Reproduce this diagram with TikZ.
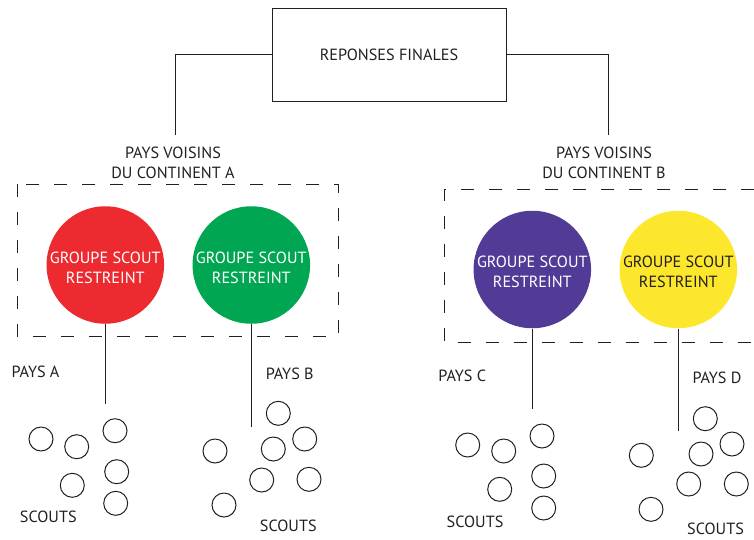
\documentclass[tikz,border=0pt]{standalone}
\usepackage{fontspec}
\setmainfont{PT Sans}
\definecolor{ink}{HTML}{231F20}
\definecolor{cred}{HTML}{EC2A2F}
\definecolor{cgreen}{HTML}{00A651}
\definecolor{cpurple}{HTML}{523B97}
\definecolor{cyellow}{HTML}{FDE72C}
\newcommand{\grptext}{\raisebox{-4pt}[\height][\depth]{\begin{tabular}{@{}c@{}}GROUPE SCOUT\\RESTREINT\end{tabular}}}
\begin{document}
\begin{tikzpicture}[x=1pt,y=-1pt,
  line width=1pt,
  every node/.style={text=ink},
  lbl/.style={inner sep=0pt,font=\fontsize{16.2}{20}\selectfont,align=center},
  grp/.style={circle,minimum size=114pt,inner sep=0pt,draw=none,
              font=\fontsize{16.2}{20}\selectfont},
  scout/.style={circle,draw=ink,line width=1pt,minimum size=24pt,inner sep=0pt},
  dbox/.style={draw=ink,dash pattern=on 13pt off 15pt},
  conn/.style={draw=ink,line width=1pt}]
\useasboundingbox (0,0) rectangle (754,539);

% top box
\node[draw=ink,minimum width=234pt,minimum height=93pt,inner sep=0pt,
      font=\fontsize{16.2}{20}\selectfont] (top) at (389,54.5) {REPONSES FINALES};

% continent labels
\node[lbl] (contA) at (173,163) {PAYS VOISINS\\DU CONTINENT A};
\node[lbl] (contB) at (604,163) {PAYS VOISINS\\DU CONTINENT B};
\coordinate (jA) at (175.7,135);
\coordinate (jB) at (608,135);
\draw[conn] (top.west) -| (jA);
\draw[conn] (top.east) -| (jB);

% dashed frames
\draw[dbox] (17.3,184) rectangle (338.3,336);
\draw[dbox] (754,189) -- (444.7,189) -- (444.7,342.7) -- (754,342.7);

% group circles
\node[grp,fill=cred,text=white] (gA) at (105.3,265) {\grptext};
\node[grp,fill=cgreen,text=white] (gB) at (251.3,265) {\grptext};
\node[grp,fill=cpurple,text=white] (gC) at (532.3,269.5) {\grptext};
\node[grp,fill=cyellow,text=ink] (gD) at (678.3,269.5) {\grptext};

% stems
\coordinate (eA) at (105.3,404);
\coordinate (eB) at (251.3,426.7);
\coordinate (eC) at (532.3,409.3);
\coordinate (eD) at (678.3,431);
\draw[conn] (gA.south) -- (eA);
\draw[conn] (gB.south) -- (eB);
\draw[conn] (gC.south) -- (eC);
\draw[conn] (gD.south) -- (eD);

% country labels
\node[lbl] (pA) at (35.5,372.3) {PAYS A};
\node[lbl] (pB) at (289.7,374) {PAYS B};
\node[lbl] (pC) at (462.3,375.7) {PAYS C};
\node[lbl] (pD) at (717,378.3) {PAYS D};
\node[lbl] (sA) at (48.3,516.7) {SCOUTS};
\node[lbl] (sB) at (288.3,525.7) {SCOUTS};
\node[lbl] (sC) at (475,521.7) {SCOUTS};
\node[lbl] (sD) at (715.5,529) {SCOUTS};

% scouts A
\node[scout] (a1) at (41,439) {};
\node[scout] (a2) at (76.7,446.7) {};
\node[scout] (a3) at (115,430.7) {};
\node[scout] (a4) at (116.7,471.7) {};
\node[scout] (a5) at (72.3,485.3) {};
\node[scout] (a6) at (115.7,503.3) {};
% scouts B
\node[scout] (b1) at (278.3,413.3) {};
\node[scout] (b2) at (304.7,439) {};
\node[scout] (b3) at (273.3,449) {};
\node[scout] (b4) at (215,451) {};
\node[scout] (b5) at (261.7,480) {};
\node[scout] (b6) at (309,479.3) {};
\node[scout] (b7) at (224,505) {};
% scouts C
\node[scout] (c1) at (467.7,445) {};
\node[scout] (c2) at (503.7,451) {};
\node[scout] (c3) at (542,436) {};
\node[scout] (c4) at (543.7,476) {};
\node[scout] (c5) at (499.7,489.3) {};
\node[scout] (c6) at (543.7,508) {};
% scouts D
\node[scout] (d1) at (705.3,418.7) {};
\node[scout] (d2) at (732,444) {};
\node[scout] (d3) at (701,454) {};
\node[scout] (d4) at (641.3,455.3) {};
\node[scout] (d5) at (688.7,484) {};
\node[scout] (d6) at (736.3,484) {};
\node[scout] (d7) at (651,509.3) {};
\end{tikzpicture}
\end{document}
